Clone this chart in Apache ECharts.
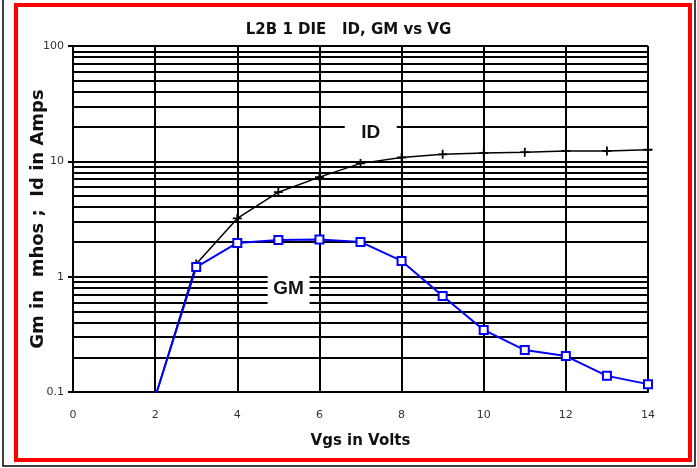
<!DOCTYPE html>
<html><head><meta charset="utf-8">
<script src="https://cdn.jsdelivr.net/npm/echarts@6/dist/echarts.min.js"></script>
<style>html,body{margin:0;padding:0;background:#fff}#c{width:697px;height:468px}</style>
</head><body><div id="c"></div>
<script>
// Data
const vgs    = [2, 3, 4, 5, 6, 7, 8, 9, 10, 11, 12, 13, 14];
const idAmps = [0.09, 1.29, 3.2, 5.4, 7.3, 9.6, 10.8, 11.5, 11.8, 12.0, 12.3, 12.3, 12.6];
const gmMhos = [0.09, 1.21, 1.96, 2.08, 2.1, 2.0, 1.37, 0.68, 0.345, 0.231, 0.205, 0.138, 0.117];
const xMin = 0, xMax = 14, xStep = 2;
const yMin = 0.1, yMax = 100;
const yMinorLines = [0.2,0.3,0.4,0.5,0.6,0.7,0.8,0.9, 2,3,4,5,6,7,8,9, 20,30,40,50,60,70,80,90];
const annotations = [
  {text: 'ID', x: 7.25, y: 17.6, w: 52, h: 32},
  {text: 'GM', x: 5.25, y: 0.78, w: 42, h: 32}
];

const FONT = 'DejaVu Sans, sans-serif';
const LFONT = 'Liberation Sans, Arial, sans-serif';
const chart = echarts.init(document.getElementById('c'), null, {renderer: 'canvas'});
const plus = 'path://M4,0h2v4h4v2h-4v4h-2v-4h-4v-2h4z';

chart.setOption({
  animation: false,
  backgroundColor: '#fff',
  title: {
    text: 'L2B 1 DIE   ID, GM vs VG',
    left: 'center', top: 18,
    textStyle: {fontFamily: FONT, fontSize: 15, fontWeight: 'bold', color: '#111'}
  },
  graphic: [
    {type: 'rect', shape: {x: 3, y: -10, width: 692, height: 476}, style: {fill: 'none', stroke: '#000', lineWidth: 1.5}, silent: true},
    {type: 'rect', shape: {x: 16, y: 5, width: 674, height: 455}, style: {fill: 'none', stroke: '#ff0000', lineWidth: 4}, silent: true}
  ],
  grid: {left: 73, right: 49, top: 46, bottom: 76},
  xAxis: {
    type: 'value', min: xMin, max: xMax, interval: xStep,
    axisLine: {onZero: false, lineStyle: {color: '#000', width: 2}},
    axisTick: {show: false},
    splitLine: {show: true, lineStyle: {color: '#000', width: 2}},
    axisLabel: {margin: 18, fontSize: 11, color: '#333', fontFamily: FONT},
    name: 'Vgs in Volts', nameLocation: 'middle', nameGap: 42, nameMoveOverlap: false,
    nameTextStyle: {fontFamily: FONT, fontSize: 15, fontWeight: 'bold', color: '#111'}
  },
  yAxis: {
    type: 'log', logBase: 10, min: yMin, max: yMax,
    axisLine: {show: true, onZero: false, lineStyle: {color: '#000', width: 2}},
    axisTick: {show: true, length: 5, lineStyle: {color: '#000', width: 2}},
    splitLine: {show: true, lineStyle: {color: '#000', width: 2}},
    axisLabel: {margin: 9, fontSize: 11, color: '#333', fontFamily: FONT},
    name: 'Gm in  mhos ;  Id in Amps', nameLocation: 'middle', nameGap: 26, nameRotate: 90,
    nameMoveOverlap: false,
    nameTextStyle: {fontFamily: FONT, fontSize: 18, fontWeight: 'bold', color: '#111'}
  },
  series: [
    {
      name: 'minor', type: 'line', data: [], z: 1, silent: true,
      markLine: {
        silent: true, symbol: ['none', 'none'], label: {show: false},
        lineStyle: {color: '#000', width: 2, type: 'solid'},
        emphasis: {disabled: true},
        data: yMinorLines.map(v => ({yAxis: v}))
      }
    },
    {
      name: 'labels', type: 'line', data: [], z: 3, silent: true,
      markPoint: {
        silent: true,
        data: annotations.map(a => ({
          coord: [a.x, a.y], symbol: 'rect', symbolSize: [a.w, a.h],
          itemStyle: {color: '#fff'},
          label: {show: true, position: 'inside', formatter: a.text, color: '#111',
                  fontFamily: LFONT, fontSize: 19, fontWeight: 'bold'}
        }))
      }
    },
    {
      name: 'ID', type: 'line', z: 5, clip: true,
      data: vgs.map((x, i) => [x, idAmps[i]]),
      symbol: plus, symbolSize: 9,
      itemStyle: {color: '#000'},
      lineStyle: {color: '#000', width: 1.5}
    },
    {
      name: 'GM', type: 'line', z: 6, clip: true,
      data: vgs.map((x, i) => [x, gmMhos[i]]),
      symbol: 'rect', symbolSize: 8,
      itemStyle: {color: '#fff', borderColor: '#0000ff', borderWidth: 2},
      lineStyle: {color: '#0000ff', width: 2}
    }
  ]
});
</script></body></html>
